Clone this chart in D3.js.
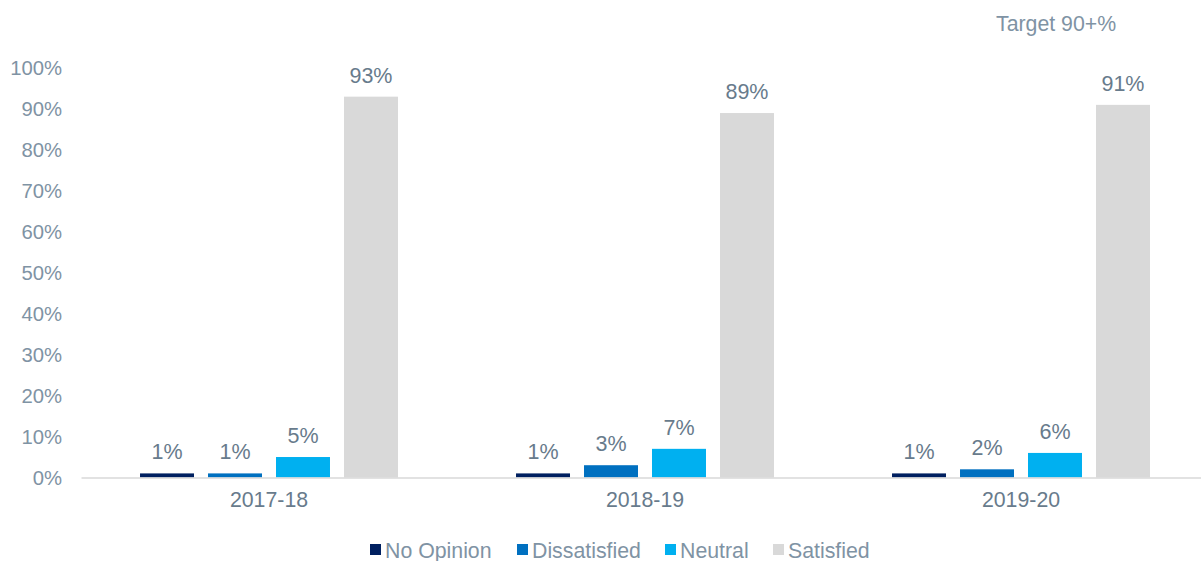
<!DOCTYPE html>
<html>
<head>
<meta charset="utf-8">
<script src="https://cdn.jsdelivr.net/npm/d3@7"></script>
<style>
  html, body { margin: 0; padding: 0; background: #ffffff; }
  svg { display: block; }
  text { font-family: "Liberation Sans", Arial, sans-serif; }
</style>
</head>
<body>
<svg id="chart" width="1201" height="561"></svg>
<script>
// Survey satisfaction by year
const years = ["2017-18", "2018-19", "2019-20"];
const seriesNames = ["No Opinion", "Dissatisfied", "Neutral", "Satisfied"];
const noOpinion = [1, 1, 1];
const dissatisfied = [1, 3, 2];
const neutral = [5, 7, 6];
const satisfied = [93, 89, 91];
const yTicks = [0, 10, 20, 30, 40, 50, 60, 70, 80, 90, 100];
const targetNote = "Target 90+%";

const seriesValues = [noOpinion, dissatisfied, neutral, satisfied];
const colors = ["#002060", "#0070C0", "#00B0F0", "#D9D9D9"];
const labelColor = "#687b8c";
const axisTextColor = "#7f93a4";

const svg = d3.select("#chart");
const W = 1201, H = 561;
const margin = { left: 81, right: -8, top: 68 };
const plotBottom = 477.5;

const x0 = d3.scaleBand()
  .domain(years)
  .range([margin.left, W - margin.right])
  .paddingInner(0)
  .paddingOuter(0);

const x1 = d3.scaleBand()
  .domain(seriesNames)
  .range([0, x0.bandwidth()])
  .paddingInner(0.206)
  .paddingOuter(0.868);

const y = d3.scaleLinear()
  .domain([0, 100])
  .range([plotBottom, margin.top]);

// y axis labels (no line, no ticks)
const yAxis = d3.axisLeft(y)
  .tickValues(yTicks)
  .tickFormat(d => d + "%")
  .tickSize(0)
  .tickPadding(0);
const yg = svg.append("g")
  .attr("transform", "translate(62,0)")
  .call(yAxis);
yg.select(".domain").remove();
yg.selectAll("text")
  .attr("fill", axisTextColor)
  .style("font-size", "20.3px")
  .style("font-family", "'Liberation Sans', Arial, sans-serif");

// bars
const rows = years.map((yr, i) => ({
  year: yr,
  values: seriesNames.map((s, j) => ({ series: s, value: seriesValues[j][i], color: colors[j] }))
}));

const groups = svg.selectAll("g.year")
  .data(rows)
  .join("g")
  .attr("class", "year")
  .attr("transform", d => `translate(${x0(d.year)},0)`);

groups.selectAll("rect")
  .data(d => d.values)
  .join("rect")
  .attr("x", d => x1(d.series))
  .attr("width", x1.bandwidth())
  .attr("y", d => y(d.value))
  .attr("height", d => plotBottom - y(d.value))
  .attr("fill", d => d.color);

groups.selectAll("text.val")
  .data(d => d.values)
  .join("text")
  .attr("class", "val")
  .attr("x", d => x1(d.series) + x1.bandwidth() / 2)
  .attr("y", d => y(d.value) - 14)
  .attr("text-anchor", "middle")
  .attr("fill", labelColor)
  .style("font-size", "21.5px")
  .text(d => d.value + "%");

// x axis line and category labels
const xAxis = d3.axisBottom(x0).tickSize(0).tickPadding(14);
const xg = svg.append("g")
  .attr("transform", `translate(0,${plotBottom})`)
  .call(xAxis);
xg.select(".domain")
  .attr("stroke", "#d9d9d9")
  .attr("stroke-width", 1.5);
xg.selectAll("text")
  .attr("fill", labelColor)
  .style("font-size", "21.3px")
  .style("font-family", "'Liberation Sans', Arial, sans-serif");

// target note
svg.append("text")
  .attr("x", 996)
  .attr("y", 31)
  .attr("fill", axisTextColor)
  .style("font-size", "21.3px")
  .text(targetNote);

// legend
const legendX = [370, 517, 665, 773];
const legend = svg.append("g").attr("transform", "translate(0,550)");
seriesNames.forEach((s, i) => {
  legend.append("rect")
    .attr("x", legendX[i])
    .attr("y", -6)
    .attr("width", 11)
    .attr("height", 11)
    .attr("fill", colors[i]);
  legend.append("text")
    .attr("x", legendX[i] + 15)
    .attr("y", 7.5)
    .attr("fill", axisTextColor)
    .style("font-size", "21.3px")
    .text(s);
});
</script>
</body>
</html>
